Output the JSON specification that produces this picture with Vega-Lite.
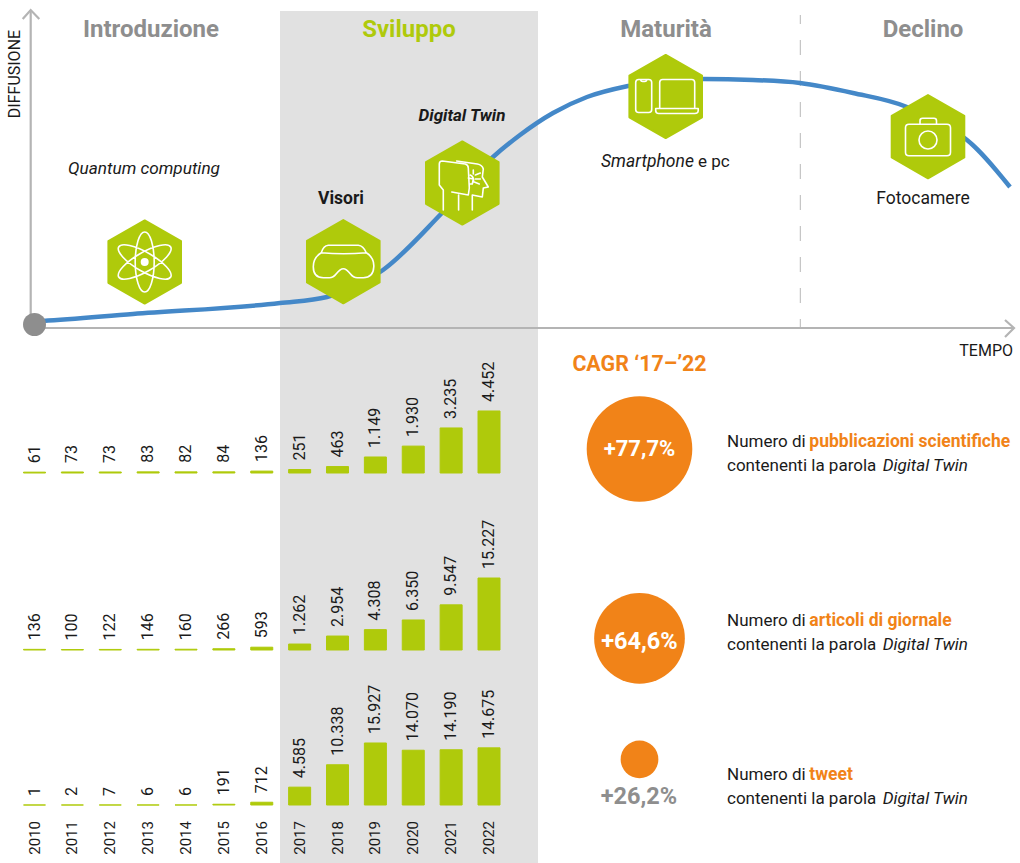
{
"$schema":"https://vega.github.io/schema/vega-lite/v6.json",
"width":1020,"height":863,"padding":0,"autosize":{"type":"fit","contains":"padding"},"background":"white",
"config":{"view":{"stroke":null},"font":"Roboto","text":{"font":"Roboto","baseline":"middle","fill":"#1a1a1a"}},
"datasets":{
"bars":[
{"panel":"pubblicazioni","year":2010,"value":61,"label":"61"},{"panel":"pubblicazioni","year":2011,"value":73,"label":"73"},{"panel":"pubblicazioni","year":2012,"value":73,"label":"73"},{"panel":"pubblicazioni","year":2013,"value":83,"label":"83"},{"panel":"pubblicazioni","year":2014,"value":82,"label":"82"},{"panel":"pubblicazioni","year":2015,"value":84,"label":"84"},{"panel":"pubblicazioni","year":2016,"value":136,"label":"136"},{"panel":"pubblicazioni","year":2017,"value":251,"label":"251"},{"panel":"pubblicazioni","year":2018,"value":463,"label":"463"},{"panel":"pubblicazioni","year":2019,"value":1149,"label":"1.149"},{"panel":"pubblicazioni","year":2020,"value":1930,"label":"1.930"},{"panel":"pubblicazioni","year":2021,"value":3235,"label":"3.235"},{"panel":"pubblicazioni","year":2022,"value":4452,"label":"4.452"},
{"panel":"articoli","year":2010,"value":136,"label":"136"},{"panel":"articoli","year":2011,"value":100,"label":"100"},{"panel":"articoli","year":2012,"value":122,"label":"122"},{"panel":"articoli","year":2013,"value":146,"label":"146"},{"panel":"articoli","year":2014,"value":160,"label":"160"},{"panel":"articoli","year":2015,"value":266,"label":"266"},{"panel":"articoli","year":2016,"value":593,"label":"593"},{"panel":"articoli","year":2017,"value":1262,"label":"1.262"},{"panel":"articoli","year":2018,"value":2954,"label":"2.954"},{"panel":"articoli","year":2019,"value":4308,"label":"4.308"},{"panel":"articoli","year":2020,"value":6350,"label":"6.350"},{"panel":"articoli","year":2021,"value":9547,"label":"9.547"},{"panel":"articoli","year":2022,"value":15227,"label":"15.227"},
{"panel":"tweet","year":2010,"value":1,"label":"1"},{"panel":"tweet","year":2011,"value":2,"label":"2"},{"panel":"tweet","year":2012,"value":7,"label":"7"},{"panel":"tweet","year":2013,"value":6,"label":"6"},{"panel":"tweet","year":2014,"value":6,"label":"6"},{"panel":"tweet","year":2015,"value":191,"label":"191"},{"panel":"tweet","year":2016,"value":712,"label":"712"},{"panel":"tweet","year":2017,"value":4585,"label":"4.585"},{"panel":"tweet","year":2018,"value":10338,"label":"10.338"},{"panel":"tweet","year":2019,"value":15927,"label":"15.927"},{"panel":"tweet","year":2020,"value":14070,"label":"14.070"},{"panel":"tweet","year":2021,"value":14190,"label":"14.190"},{"panel":"tweet","year":2022,"value":14675,"label":"14.675"}
],
"curve":[{"t":3.4,"d":0.55},{"t":4.3,"d":0.6},{"t":13.3,"d":1.3},{"t":28,"d":2.4},{"t":32.7,"d":3.0},{"t":38.3,"d":5.7},{"t":44,"d":11.2},{"t":49.3,"d":17},{"t":52,"d":19.2},{"t":55.3,"d":21.4},{"t":58.7,"d":23},{"t":62.8,"d":24.1},{"t":66.5,"d":24.7},{"t":70.3,"d":24.8},{"t":75.3,"d":24.7},{"t":80,"d":24.4},{"t":85.3,"d":23.4},{"t":90.7,"d":22},{"t":93.7,"d":20.5},{"t":96.7,"d":18.7},{"t":101,"d":14}],
"axes":[{"seg":"a","i":1,"t":3.07,"d":0},{"seg":"a","i":2,"t":3.07,"d":31.7},{"seg":"b","i":1,"t":2.27,"d":30.8},{"seg":"b","i":2,"t":3.07,"d":31.7},{"seg":"b","i":3,"t":3.93,"d":30.8},{"seg":"c","i":1,"t":3.3,"d":-0.1},{"seg":"c","i":2,"t":101.4,"d":-0.1},{"seg":"d","i":1,"t":100.5,"d":0.7},{"seg":"d","i":2,"t":101.4,"d":-0.1},{"seg":"d","i":3,"t":100.5,"d":-1.0}],
"icons":[{"name":"atom","t":14.47,"d":6.5},{"name":"vr","t":34.33,"d":6.53},{"name":"head","t":46.23,"d":14.4},{"name":"device","t":66.57,"d":23.05},{"name":"camera","t":92.8,"d":19.03}],
"cagr":[{"metric":"pubblicazioni","t":63.95,"d":-12.2,"cagr":77.7},{"metric":"articoli","t":63.95,"d":-31.13,"cagr":64.6},{"metric":"tweet","t":63.95,"d":-43.23,"cagr":26.2}],
"texts":[
{"style":"phase","t":15.1,"d":29.7,"text":"Introduzione"},{"style":"phaseGreen","t":40.9,"d":29.7,"text":"Sviluppo"},{"style":"phase","t":66.6,"d":29.7,"text":"Maturità"},{"style":"phase","t":92.3,"d":29.7,"text":"Declino"},
{"style":"axisV","t":1.5,"d":25.3,"text":"DIFFUSIONE"},{"style":"axisH","t":101.3,"d":-2.4,"text":"TEMPO"},
{"style":"noteItalic","t":14.4,"d":15.8,"text":"Quantum computing"},{"style":"noteBold","t":34.1,"d":12.8,"text":"Visori"},{"style":"noteBoldItalic","t":46.2,"d":21.1,"text":"Digital Twin"},{"style":"leftItalicWide","t":60.1,"d":16.5,"text":"Smartphone"},{"style":"left","t":69.8,"d":16.5,"text":"e pc"},{"style":"note","t":92.3,"d":12.8,"text":"Fotocamere"},
{"style":"cagrTitle","t":63.95,"d":-3.8,"text":"CAGR ‘17–’22"},
{"style":"pctWhite","t":63.95,"d":-12.2,"text":"+77,7%"},{"style":"pctWhiteWide","t":63.95,"d":-31.5,"text":"+64,6%"},{"style":"pctGray","t":63.9,"d":-47,"text":"+26,2%"},
{"style":"left","t":72.7,"d":-11.47,"text":"Numero di"},{"style":"orange","t":80.93,"d":-11.47,"text":"pubblicazioni scientifiche"},{"style":"left","t":72.7,"d":-13.9,"text":"contenenti la parola"},{"style":"leftItalic","t":88.27,"d":-13.9,"text":"Digital Twin"},
{"style":"left","t":72.7,"d":-29.4,"text":"Numero di"},{"style":"orange","t":80.93,"d":-29.4,"text":"articoli di giornale"},{"style":"left","t":72.7,"d":-31.8,"text":"contenenti la parola"},{"style":"leftItalic","t":88.27,"d":-31.8,"text":"Digital Twin"},
{"style":"left","t":72.7,"d":-44.8,"text":"Numero di"},{"style":"orange","t":80.93,"d":-44.8,"text":"tweet"},{"style":"left","t":72.7,"d":-47.2,"text":"contenenti la parola"},{"style":"leftItalic","t":88.27,"d":-47.2,"text":"Digital Twin"}
]
},
"resolve":{"scale":{"x":"independent","y":"independent","size":"independent","shape":"independent"}},
"layer":[
{"data":{"values":[{"t0":28,"t1":53.8,"d0":31.6,"d1":-53.6}]},"mark":{"type":"rect","fill":"#e1e1e1"},
 "encoding":{"x":{"field":"t0","type":"quantitative","scale":{"domain":[0,102]},"axis":null},"x2":{"field":"t1"},"y":{"field":"d0","type":"quantitative","scale":{"domain":[-53.6,32.7]},"axis":null},"y2":{"field":"d1"}}},
{"data":{"values":[{"t":80.03,"d0":31.2,"d1":0}]},"mark":{"type":"rule","stroke":"#b8b8b8","strokeWidth":1,"strokeDash":[15,16],"strokeDashOffset":6},
 "encoding":{"x":{"field":"t","type":"quantitative","scale":{"domain":[0,102]},"axis":null},"y":{"field":"d0","type":"quantitative","scale":{"domain":[-53.6,32.7]},"axis":null},"y2":{"field":"d1"}}},
{"data":{"name":"axes"},"mark":{"type":"line","stroke":"#b4b4b4","strokeWidth":2.2},
 "encoding":{"detail":{"field":"seg"},"order":{"field":"i","type":"quantitative"},"x":{"field":"t","type":"quantitative","scale":{"domain":[0,102]},"axis":null},"y":{"field":"d","type":"quantitative","scale":{"domain":[-53.6,32.7]},"axis":null}}},
{"data":{"name":"curve"},"mark":{"type":"line","stroke":"#4488c8","strokeWidth":4.5,"interpolate":"monotone"},
 "encoding":{"x":{"field":"t","type":"quantitative","scale":{"domain":[0,102]},"axis":null},"y":{"field":"d","type":"quantitative","scale":{"domain":[-53.6,32.7]},"axis":null}}},
{"data":{"values":[{"t":3.45,"d":0.25}]},"mark":{"type":"point","filled":true,"fill":"#8e8e8e","opacity":1,"size":529,"shape":"circle"},
 "encoding":{"x":{"field":"t","type":"quantitative","scale":{"domain":[0,102]},"axis":null},"y":{"field":"d","type":"quantitative","scale":{"domain":[-53.6,32.7]},"axis":null}}},
{"data":{"name":"icons"},"mark":{"type":"point","filled":true,"fill":"#afca0b","stroke":"#afca0b","strokeWidth":2,"strokeJoin":"round","opacity":1,"size":4,"shape":"M0,-41.6 L36.3,-20.8 L36.3,20.8 L0,41.6 L-36.3,20.8 L-36.3,-20.8 Z"},
 "encoding":{"x":{"field":"t","type":"quantitative","scale":{"domain":[0,102]},"axis":null},"y":{"field":"d","type":"quantitative","scale":{"domain":[-53.6,32.7]},"axis":null}}},
{"data":{"name":"icons"},"mark":{"type":"point","filled":false,"fill":null,"stroke":"white","strokeWidth":1.6,"strokeJoin":"round","strokeCap":"round","opacity":1,"size":4},
 "encoding":{"x":{"field":"t","type":"quantitative","scale":{"domain":[0,102]},"axis":null},"y":{"field":"d","type":"quantitative","scale":{"domain":[-53.6,32.7]},"axis":null},
 "shape":{"field":"name","type":"nominal","legend":null,"scale":{"domain":["atom","vr","head","device","camera"],"range":[
 "M0,-30 A9.5,30 0 1,1 0,30 A9.5,30 0 1,1 0,-30Z M-26,-15 A30,9.5 30 1,1 26,15 A30,9.5 30 1,1 -26,-15Z M26,-15 A30,9.5 -30 1,1 -26,15 A30,9.5 -30 1,1 26,-15Z",
 "M-15,-16.5 L15,-16.5 Q20,-16 23,-9 Q31,-4 30.5,5 Q30,16 20,16 L14,16 Q10,16 7,12 Q3,7 0,7 Q-3,7 -7,12 Q-10,16 -14,16 L-20,16 Q-30,16 -30,5 Q-30,-4 -22,-9 Q-20,-16 -15,-16.5Z M-22,-9 Q0,-7 23,-9",
 "M-19,27 L-19,7 L-23,2 L-23,-19 Q-23,-22 -20,-22 L3,-19 Q6,-18 6,-15 L7,5 L6,12 L-10.5,9 M-3.7,12 L-3.7,27 M-5.7,-22 L15,-19 Q20,-18 21,-14 L20,-6 L26,4 L21,5 L20,14 L10,12 L10,27 M6,-5 L11,-4 L10,1 L7,1 M8,-8 Q12,-6 11,-1 M11,-13 L11,-9 M13,-8 L18,-10 M13,-4 L18,-4 M12,-1 L17,1",
 "M-27,-17 L-17,-17 Q-14,-17 -14,-14 L-14,13 Q-14,16 -17,16 L-27,16 Q-30,16 -30,13 L-30,-14 Q-30,-17 -27,-17Z M-25,-17 Q-25,-15 -23,-15 L-21,-15 Q-19,-15 -19,-17 M-6,12 L-6,-14 Q-6,-17 -3,-17 L26,-17 Q29,-17 29,-14 L29,12 M-10,12 L32.5,12 L32.5,14 Q32.5,17 29,17 L-7,17 Q-10,17 -10,14Z",
 "M-19,-12.5 L19,-12.5 Q22.5,-12.5 22.5,-9 L22.5,15.5 Q22.5,19 19,19 L-19,19 Q-22.5,19 -22.5,15.5 L-22.5,-9 Q-22.5,-12.5 -19,-12.5Z M-8,-12.5 L-8,-16 Q-8,-18.5 -5.5,-18.5 L6,-18.5 Q8.5,-18.5 8.5,-16 L8.5,-12.5 M9,3.3 A9,9 0 1,1 -9,3.3 A9,9 0 1,1 9,3.3Z"
 ]}}}},
{"data":{"name":"icons"},"transform":[{"filter":"datum.name=='atom'"}],"mark":{"type":"point","filled":true,"fill":"white","opacity":1,"size":64,"shape":"circle"},
 "encoding":{"x":{"field":"t","type":"quantitative","scale":{"domain":[0,102]},"axis":null},"y":{"field":"d","type":"quantitative","scale":{"domain":[-53.6,32.7]},"axis":null}}},
{"data":{"name":"bars"},"transform":[{"filter":"datum.panel=='pubblicazioni'"}],
 "encoding":{"x":{"field":"year","type":"quantitative","scale":{"domain":[2010,2022],"range":[34.5,489],"padding":0},"axis":null},"y":{"field":"value","type":"quantitative","stack":null,"scale":{"domain":[0,33964],"range":[473,0]},"axis":null}},
 "layer":[{"mark":{"type":"bar","orient":"vertical","width":22,"fill":"#afca0b","stroke":"#afca0b","strokeWidth":1}},
 {"mark":{"type":"text","angle":270,"align":"left","dx":9,"fontSize":16},"encoding":{"text":{"field":"label"}}}]},
{"data":{"name":"bars"},"transform":[{"filter":"datum.panel=='articoli'"}],
 "encoding":{"x":{"field":"year","type":"quantitative","scale":{"domain":[2010,2022],"range":[34.5,489],"padding":0},"axis":null},"y":{"field":"value","type":"quantitative","stack":null,"scale":{"domain":[0,137467],"range":[650,0]},"axis":null}},
 "layer":[{"mark":{"type":"bar","orient":"vertical","width":22,"fill":"#afca0b","stroke":"#afca0b","strokeWidth":1}},
 {"mark":{"type":"text","angle":270,"align":"left","dx":9,"fontSize":16},"encoding":{"text":{"field":"label"}}}]},
{"data":{"name":"bars"},"transform":[{"filter":"datum.panel=='tweet'"}],
 "encoding":{"x":{"field":"year","type":"quantitative","scale":{"domain":[2010,2022],"range":[34.5,489],"padding":0},"axis":null},"y":{"field":"value","type":"quantitative","stack":null,"scale":{"domain":[0,206792],"range":[805,0]},"axis":null}},
 "layer":[{"mark":{"type":"bar","orient":"vertical","width":22,"fill":"#afca0b","stroke":"#afca0b","strokeWidth":1}},
 {"mark":{"type":"text","angle":270,"align":"left","dx":9,"fontSize":16},"encoding":{"text":{"field":"label"}}}]},
{"data":{"name":"bars"},"transform":[{"filter":"datum.panel=='tweet'"}],"mark":{"type":"text","angle":270,"align":"right","fontSize":15},
 "encoding":{"x":{"field":"year","type":"quantitative","scale":{"domain":[2010,2022],"range":[34.5,489]},"axis":null},"y":{"datum":-49.4,"type":"quantitative","scale":{"domain":[-53.6,32.7]},"axis":null},"text":{"field":"year","type":"ordinal"}}},
{"data":{"name":"cagr"},"mark":{"type":"point","filled":true,"fill":"#f18318","opacity":1,"shape":"circle"},
 "encoding":{"x":{"field":"t","type":"quantitative","scale":{"domain":[0,102]},"axis":null},"y":{"field":"d","type":"quantitative","scale":{"domain":[-53.6,32.7]},"axis":null},
 "size":{"field":"cagr","type":"quantitative","legend":null,"scale":{"domain":[26.2,64.6,77.7],"range":[1421,8226,11151]}}}},
{"data":{"name":"texts"},
 "encoding":{"x":{"field":"t","type":"quantitative","scale":{"domain":[0,102]},"axis":null},"y":{"field":"d","type":"quantitative","scale":{"domain":[-53.6,32.7]},"axis":null},"text":{"field":"text"}},
 "layer":[
 {"transform":[{"filter":"datum.style=='phase'"}],"mark":{"type":"text","align":"center","fontSize":24,"fontWeight":"bold","fill":"#8e8e8e"}},
 {"transform":[{"filter":"datum.style=='phaseGreen'"}],"mark":{"type":"text","align":"center","fontSize":24,"fontWeight":"bold","fill":"#afca0b"}},
 {"transform":[{"filter":"datum.style=='axisV'"}],"mark":{"type":"text","align":"center","angle":270,"fontSize":16}},
 {"transform":[{"filter":"datum.style=='axisH'"}],"mark":{"type":"text","align":"right","fontSize":16}},
 {"transform":[{"filter":"datum.style=='note'"}],"mark":{"type":"text","align":"center","fontSize":17.5}},
 {"transform":[{"filter":"datum.style=='noteItalic'"}],"mark":{"type":"text","align":"center","fontSize":17.2,"fontStyle":"italic"}},
 {"transform":[{"filter":"datum.style=='noteBold'"}],"mark":{"type":"text","align":"center","fontSize":17.5,"fontWeight":"bold"}},
 {"transform":[{"filter":"datum.style=='noteBoldItalic'"}],"mark":{"type":"text","align":"center","fontSize":17,"fontWeight":"bold","fontStyle":"italic"}},
 {"transform":[{"filter":"datum.style=='left'"}],"mark":{"type":"text","align":"left","fontSize":17}},
 {"transform":[{"filter":"datum.style=='leftItalic'"}],"mark":{"type":"text","align":"left","fontSize":17,"fontStyle":"italic"}},
 {"transform":[{"filter":"datum.style=='leftItalicWide'"}],"mark":{"type":"text","align":"left","fontSize":17.5,"fontStyle":"italic"}},
 {"transform":[{"filter":"datum.style=='orange'"}],"mark":{"type":"text","align":"left","fontSize":17.5,"fontWeight":"bold","fill":"#f18318"}},
 {"transform":[{"filter":"datum.style=='cagrTitle'"}],"mark":{"type":"text","align":"center","fontSize":21.4,"fontWeight":"bold","fill":"#f18318"}},
 {"transform":[{"filter":"datum.style=='pctWhite'"}],"mark":{"type":"text","align":"center","fontSize":22,"fontWeight":"bold","fill":"white"}},
 {"transform":[{"filter":"datum.style=='pctWhiteWide'"}],"mark":{"type":"text","align":"center","fontSize":23.5,"fontWeight":"bold","fill":"white"}},
 {"transform":[{"filter":"datum.style=='pctGray'"}],"mark":{"type":"text","align":"center","fontSize":23.5,"fontWeight":"bold","fill":"#8e8e8e"}}
 ]}
]
}
